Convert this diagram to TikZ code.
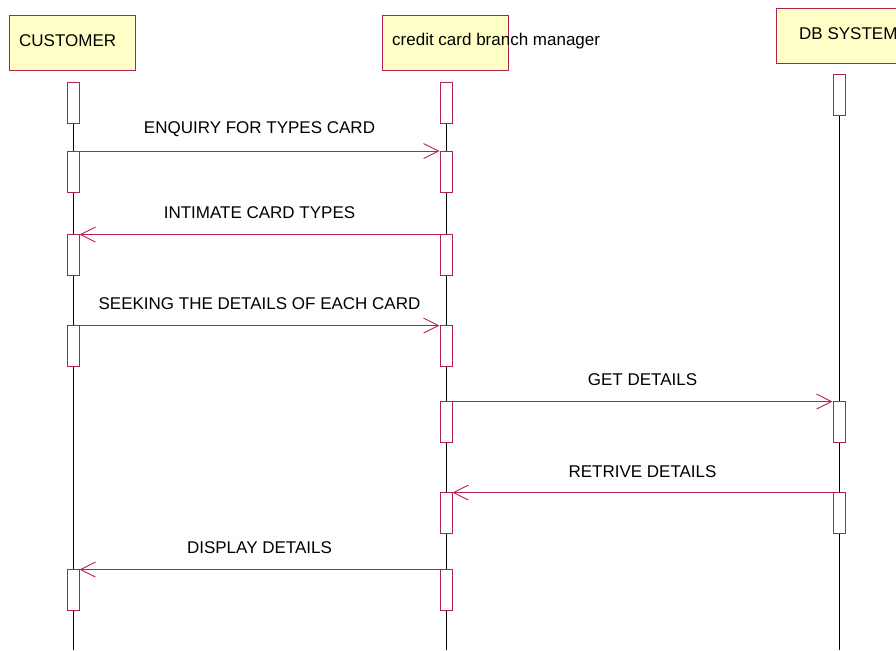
\documentclass[tikz,border=0pt]{standalone}
\usepackage{fontspec}
\setmainfont{Liberation Sans}
\usetikzlibrary{arrows.meta,calc}
\definecolor{umlred}{RGB}{178,34,78}
\definecolor{umlfill}{RGB}{255,255,200}
\tikzset{
  objbox/.style={draw=umlred,fill=umlfill,line width=0.9pt},
  objtext/.style={anchor=west,inner sep=0pt,font=\fontsize{17}{19}\selectfont},
  actbox/.style={draw=umlred,fill=white,line width=0.9pt,rectangle,
    minimum width=12pt,minimum height=41pt,inner sep=0pt},
  lifeline/.style={draw=black,line width=0.7pt},
  msg/.style={draw=umlred,line width=0.9pt,-{Straight Barb[length=15pt,width=15pt,line width=0.9pt]}},
  msglabel/.style={inner sep=0pt,font=\fontsize{17}{19}\selectfont}
}
\begin{document}
\begin{tikzpicture}[x=1pt,y=-1pt]
\clip (0,0) rectangle (896,650);
\fill[white] (0,0) rectangle (896,650);

% object headers
\draw[objbox] (9,15) rectangle (135,70);
\node[objtext] (tcust) at (19,41) {CUSTOMER};
\draw[objbox] (382,15) rectangle (508,70);
\node[objtext] (tmgr) at (392,41) {credit card branch manager};
\draw[objbox] (776,8) rectangle (920,63);
\node[objtext] (tdb) at (799,34) {DB SYSTEM};

% lifelines
\coordinate (cend) at (73,650);
\coordinate (mend) at (446,650);
\coordinate (dend) at (839,650);
\coordinate (ctop) at (73,82);
\coordinate (mtop) at (446,82);
\coordinate (dtop) at (839,74);
\draw[lifeline] (ctop) -- (cend);
\draw[lifeline] (mtop) -- (mend);
\draw[lifeline] (dtop) -- (dend);

% activation bars (customer)
\node[actbox] (c0) at (73,102.5) {};
\node[actbox] (c1) at (73,171.5) {};
\node[actbox] (c2) at (73,254.5) {};
\node[actbox] (c3) at (73,345.5) {};
\node[actbox] (c6) at (73,589.5) {};
% activation bars (manager)
\node[actbox] (m0) at (446,102.5) {};
\node[actbox] (m1) at (446,171.5) {};
\node[actbox] (m2) at (446,254.5) {};
\node[actbox] (m3) at (446,345.5) {};
\node[actbox] (m4) at (446,421.5) {};
\node[actbox] (m5) at (446,512.5) {};
\node[actbox] (m6) at (446,589.5) {};
% activation bars (DB system)
\node[actbox] (d0) at (839,94.5) {};
\node[actbox] (d4) at (839,421.5) {};
\node[actbox] (d5) at (839,512.5) {};

% messages
\draw[msg] ([yshift=-0.5pt]c1.north east) -- ([yshift=-0.5pt]m1.north west);
\node[msglabel] (l1) at (259.5,129) {ENQUIRY FOR TYPES CARD};
\draw[msg] ([yshift=-1pt]m2.north west) -- ([yshift=-1pt]c2.north east);
\node[msglabel] (l2) at (259.5,213) {INTIMATE CARD TYPES};
\draw[msg] ([yshift=-1pt]c3.north east) -- ([yshift=-1pt]m3.north west);
\node[msglabel] (l3) at (259.5,304) {SEEKING THE DETAILS OF EACH CARD};
\draw[msg] ([yshift=-1pt]m4.north east) -- ([yshift=-1pt]d4.north west);
\node[msglabel] (l4) at (642.5,380) {GET DETAILS};
\draw[msg] ([yshift=-1pt]d5.north west) -- ([yshift=-1pt]m5.north east);
\node[msglabel] (l5) at (642.5,472) {RETRIVE DETAILS};
\draw[msg] ([yshift=-1pt]m6.north west) -- ([yshift=-1pt]c6.north east);
\node[msglabel] (l6) at (259.5,548) {DISPLAY DETAILS};
\end{tikzpicture}
\end{document}
